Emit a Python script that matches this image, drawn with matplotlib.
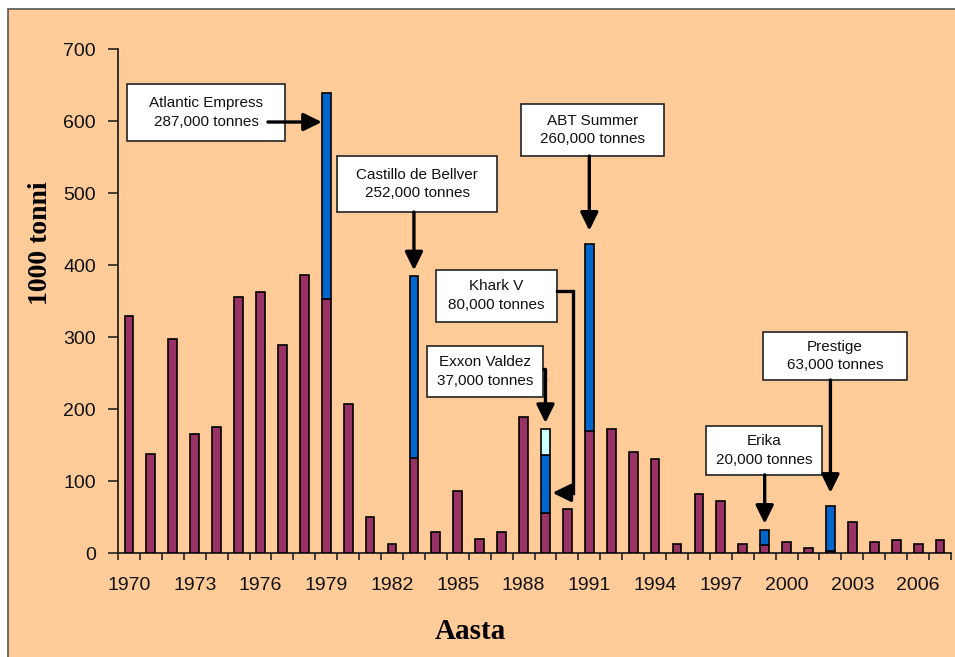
import numpy as np
import matplotlib
matplotlib.use('Agg')
import matplotlib.pyplot as plt
from matplotlib.patches import Rectangle

plt.rcParams['font.family'] = ['Liberation Sans', 'DejaVu Sans']

# --- data (1000 tonnes) ---
years = list(range(1970, 2008))
base_spill = [330, 138, 298, 165, 175, 356, 363, 290, 386, 353,
              207, 50, 13, 133, 30, 86, 20, 30, 189, 56,
              62, 170, 172, 140, 131, 13, 82, 72, 13, 12,
              16, 8, 3, 43, 16, 18, 13, 18]
# major single incidents stacked on top (blue), Exxon Valdez (light)
major_years = [1979, 1983, 1989, 1991, 1999, 2002]
major_spill = [287, 252, 80, 260, 20, 63]
exxon_year = 1989
exxon_spill = 37

BG = '#FFCC99'
MAROON = '#993366'
BLUE = '#0066CC'
CYAN = '#CCFFFF'

fig = plt.figure(figsize=(9.55, 6.57), dpi=100, facecolor='white')
# outer chart-area frame
fig.patches.append(Rectangle((8 / 955, -0.1), 1.1, 1.1 - 9 / 657 + 0.0,
                             transform=fig.transFigure, facecolor=BG,
                             edgecolor='#555555', lw=1.2, zorder=-1))

ax = fig.add_axes([118 / 955, (657 - 553.3) / 657, 833 / 955, 504 / 657])
ax.set_facecolor('none')

x = np.arange(len(years))
bw = 0.4
ax.bar(x, base_spill, width=bw, color=MAROON, edgecolor='black', lw=1.2, zorder=3)

major_idx = [years.index(y) for y in major_years]
major_bottom = [base_spill[i] for i in major_idx]
ax.bar(major_idx, major_spill, bottom=major_bottom, width=bw, color=BLUE,
       edgecolor='black', lw=1.2, zorder=3)

ei = years.index(exxon_year)
e_bottom = base_spill[ei] + major_spill[major_years.index(exxon_year)]
ax.bar([ei], [exxon_spill], bottom=[e_bottom], width=bw, color=CYAN,
       edgecolor='black', lw=1.2, zorder=3)

totals = {years[i]: base_spill[i] for i in range(len(years))}
for yr, v in zip(major_years, major_spill):
    totals[yr] += v
totals[exxon_year] += exxon_spill

# axes styling
ax.set_xlim(-0.5, len(years) - 0.5)
ax.set_ylim(0, 700)
ax.set_yticks(range(0, 701, 100))
ax.set_xticks(x[::3])
ax.set_xticklabels([str(y) for y in years[::3]])
ax.set_xticks(np.arange(-0.5, len(years), 1.0), minor=True)
ax.tick_params(axis='x', which='major', length=0, pad=17, labelsize=14, colors='#111111')
ax.tick_params(axis='x', which='minor', length=5, width=1.2, color='#222222')
ax.tick_params(axis='y', length=7, width=1.2, pad=9, labelsize=14, color='#222222',
               labelcolor='#111111')
for s in ['top', 'right']:
    ax.spines[s].set_visible(False)
for s in ['left', 'bottom']:
    ax.spines[s].set_color('#222222')
    ax.spines[s].set_linewidth(1.3)

ax.set_ylabel('1000 tonni', fontsize=20, fontweight='bold', family='Liberation Serif')
ax.yaxis.set_label_coords(-0.078, 0.616)
ax.set_xlabel('Aasta', fontsize=21, fontweight='bold', family='Liberation Serif')
ax.xaxis.set_label_coords(0.4226, -0.128)

# --- annotation boxes: (text, x0, x1, y0, y1) in data coords ---
boxes = [
    ('Atlantic Empress\n287,000 tonnes', -0.09, 7.12, 572.6, 651.8),
    ('Castillo de Bellver\n252,000 tonnes', 9.49, 16.79, 474.0, 551.8),
    ('ABT Summer\n260,000 tonnes', 17.88, 24.41, 551.8, 624.0),
    ('Khark V\n80,000 tonnes', 14.01, 19.53, 321.3, 393.5),
    ('Exxon Valdez\n37,000 tonnes', 13.60, 18.89, 217.1, 287.9),
    ('Erika\n20,000 tonnes', 26.32, 31.62, 109.0, 177.1),
    ('Prestige\n63,000 tonnes', 28.93, 35.49, 240.7, 307.4),
]
for txt, x0, x1, y0, y1 in boxes:
    ax.add_patch(Rectangle((x0, y0), x1 - x0, y1 - y0, facecolor='white',
                           edgecolor='#222222', lw=1.2, zorder=5, clip_on=False))
    ax.text((x0 + x1) / 2, (y0 + y1) / 2, txt, ha='center', va='center',
            fontsize=11, linespacing=1.45, color='#111111', zorder=6)

arrow = dict(arrowstyle='-|>,head_length=0.55,head_width=0.27', color='black',
             lw=2.4, mutation_scale=20, shrinkA=0, shrinkB=0)


def down_arrow(yr, y_start, gap):
    i = years.index(yr)
    ax.annotate('', xy=(i, totals[yr] + gap), xytext=(i, y_start),
                arrowprops=arrow, zorder=7, annotation_clip=False)


# Atlantic Empress: horizontal to left edge of 1979 bar
i79 = years.index(1979)
ax.annotate('', xy=(i79 - bw / 2, 599), xytext=(6.34, 599), arrowprops=arrow, zorder=7)
down_arrow(1983, 474.0, 8)
down_arrow(1991, 551.8, 18)
down_arrow(1999, 109.0, 9)
down_arrow(2002, 240.7, 18)

# Exxon Valdez: short jog right, then down
i89 = years.index(1989)
ax.plot([18.82, i89, i89], [255.7, 255.7, 240], color='black', lw=2.4,
        solid_capstyle='butt', zorder=7)
ax.annotate('', xy=(i89, totals[1989] + 8), xytext=(i89, 241), arrowprops=arrow, zorder=7)

# Khark V: right, down, then left into the blue segment
ax.plot([19.53, 20.26, 20.26], [364.6, 364.6, 84], color='black', lw=2.4,
        solid_joinstyle='miter', zorder=7)
ax.annotate('', xy=(i89 + bw / 2 + 0.12, 84), xytext=(20.27, 84), arrowprops=arrow, zorder=7)

fig.savefig('out.png', dpi=100, facecolor='white')
